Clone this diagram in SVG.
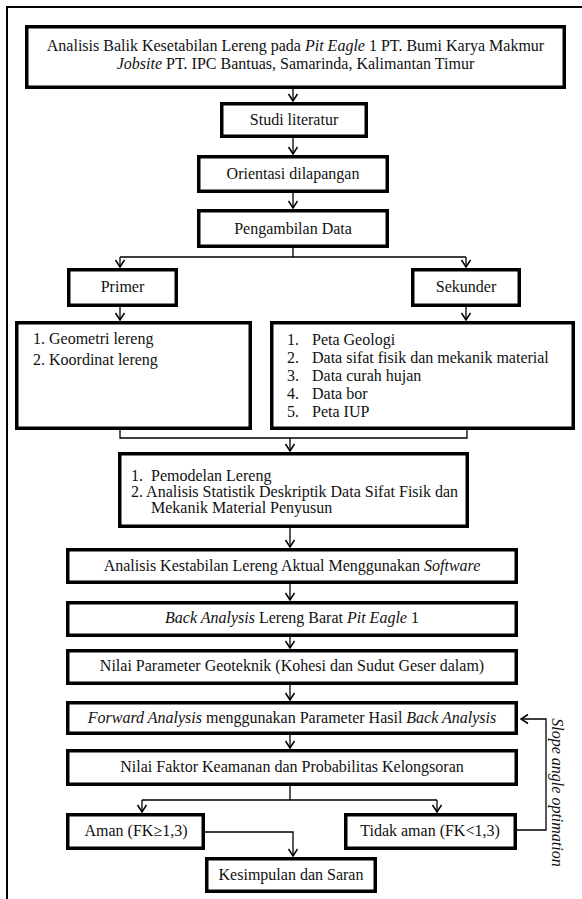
<svg xmlns="http://www.w3.org/2000/svg" width="582" height="899" viewBox="0 0 582 899">
<defs>
<style>
.box{fill:#fff;stroke:#000;stroke-width:3.5}
.t{font-family:"Liberation Serif","Times New Roman",serif;font-size:16px;fill:#111}
.c{text-anchor:middle}
.i{font-style:italic}
.ln{fill:none;stroke:#000;stroke-width:1.3}
.frame{fill:none;stroke:#000;stroke-width:2}
</style>
<marker id="ah" viewBox="-9 -6 10 12" refX="0" refY="0" markerWidth="10" markerHeight="12" markerUnits="userSpaceOnUse" orient="auto">
<path d="M-7,-4.5 L0,0 L-7,4.5" fill="none" stroke="#000" stroke-width="1.5"/>
</marker>
</defs>
<rect width="582" height="899" fill="#fff"/>
<path class="frame" d="M7,899 V7 H582"/>

<g id="connectors">
<path class="ln" d="M293,89 V101" marker-end="url(#ah)"/>
<path class="ln" d="M293,138 V154" marker-end="url(#ah)"/>
<path class="ln" d="M293,193 V208" marker-end="url(#ah)"/>
<path class="ln" d="M293,248 V257 M120,257 H466"/>
<path class="ln" d="M120,257 V267" marker-end="url(#ah)"/>
<path class="ln" d="M466,257 V267" marker-end="url(#ah)"/>
<path class="ln" d="M120,307 V320" marker-end="url(#ah)"/>
<path class="ln" d="M466,307 V320" marker-end="url(#ah)"/>
<path class="ln" d="M120,430 V438 H467 V430"/>
<path class="ln" d="M290,438 V451" marker-end="url(#ah)"/>
<path class="ln" d="M290,528 V547" marker-end="url(#ah)"/>
<path class="ln" d="M290,584 V600" marker-end="url(#ah)"/>
<path class="ln" d="M290,637 V648" marker-end="url(#ah)"/>
<path class="ln" d="M290,685 V700" marker-end="url(#ah)"/>
<path class="ln" d="M290,735 V748" marker-end="url(#ah)"/>
<path class="ln" d="M290,786 V800 M142,800 H437"/>
<path class="ln" d="M142,800 V812" marker-end="url(#ah)"/>
<path class="ln" d="M437,800 V812" marker-end="url(#ah)"/>
<path class="ln" d="M205,832 H293 V856" marker-end="url(#ah)"/>
<path class="ln" d="M517,830 H546 V719 H521" marker-end="url(#ah)"/>
<text class="t i c" transform="translate(551.5,792.5) rotate(90)">Slope angle optimation</text>
</g>

<g id="title">
<rect class="box" x="26.75" y="26.75" width="537.5" height="60.5"/>
<text class="t c" x="295.5" y="51">Analisis Balik Kesetabilan Lereng pada <tspan class="i">Pit Eagle</tspan> 1 PT. Bumi Karya Makmur</text>
<text class="t c" x="295.5" y="69"><tspan class="i">Jobsite</tspan> PT. IPC Bantuas, Samarinda, Kalimantan Timur</text>
</g>

<g id="studi">
<rect class="box" x="221.75" y="103.75" width="144.5" height="32.5"/>
<text class="t c" x="294" y="125">Studi literatur</text>
</g>

<g id="orientasi">
<rect class="box" x="198.75" y="156.75" width="188.5" height="34.5"/>
<text class="t c" x="293" y="179">Orientasi dilapangan</text>
</g>

<g id="pengambilan">
<rect class="box" x="198.75" y="210.75" width="188.5" height="35.5"/>
<text class="t c" x="293" y="234">Pengambilan Data</text>
</g>

<g id="primer">
<rect class="box" x="68.75" y="269.75" width="107.5" height="35.5"/>
<text class="t c" x="122.5" y="292">Primer</text>
</g>

<g id="sekunder">
<rect class="box" x="412.75" y="269.75" width="106.5" height="35.5"/>
<text class="t c" x="466" y="292">Sekunder</text>
</g>

<g id="primer-list">
<rect class="box" x="16.75" y="322.75" width="233.5" height="105.5"/>
<text class="t" x="33" y="344">1. Geometri lereng</text>
<text class="t" x="33" y="365">2. Koordinat lereng</text>
</g>

<g id="sekunder-list">
<rect class="box" x="271.75" y="322.75" width="301.5" height="105.5"/>
<text class="t" x="287" y="345">1.</text><text class="t" x="312" y="345">Peta Geologi</text>
<text class="t" x="287" y="363">2.</text><text class="t" x="312" y="363">Data sifat fisik dan mekanik material</text>
<text class="t" x="287" y="381">3.</text><text class="t" x="312" y="381">Data curah hujan</text>
<text class="t" x="287" y="399">4.</text><text class="t" x="312" y="399">Data bor</text>
<text class="t" x="287" y="417">5.</text><text class="t" x="312" y="417">Peta IUP</text>
</g>

<g id="pemodelan">
<rect class="box" x="119.75" y="453.75" width="347.5" height="72.5"/>
<text class="t" x="131" y="481">1.</text><text class="t" x="151" y="481">Pemodelan Lereng</text>
<text class="t" x="131" y="497">2. Analisis Statistik Deskriptik Data Sifat Fisik dan</text>
<text class="t" x="151" y="513">Mekanik Material Penyusun</text>
</g>

<g id="analisis-aktual">
<rect class="box" x="67.75" y="549.75" width="448.5" height="32.5"/>
<text class="t c" x="292" y="571">Analisis Kestabilan Lereng Aktual Menggunakan <tspan class="i">Software</tspan></text>
</g>

<g id="back-analysis">
<rect class="box" x="67.75" y="602.75" width="448.5" height="32.5"/>
<text class="t c" x="292" y="623"><tspan class="i">Back Analysis</tspan> Lereng Barat <tspan class="i">Pit Eagle</tspan> 1</text>
</g>

<g id="parameter">
<rect class="box" x="67.75" y="650.75" width="448.5" height="32.5"/>
<text class="t c" x="292" y="671">Nilai Parameter Geoteknik (Kohesi dan Sudut Geser dalam)</text>
</g>

<g id="forward">
<rect class="box" x="67.75" y="702.75" width="448.5" height="30.5"/>
<text class="t c" x="292" y="723"><tspan class="i">Forward Analysis</tspan> menggunakan Parameter Hasil <tspan class="i">Back Analysis</tspan></text>
</g>

<g id="faktor">
<rect class="box" x="67.75" y="750.75" width="448.5" height="33.5"/>
<text class="t c" x="292" y="772">Nilai Faktor Keamanan dan Probabilitas Kelongsoran</text>
</g>

<g id="aman">
<rect class="box" x="67.75" y="814.75" width="135.5" height="33.5"/>
<text class="t c" x="136" y="836">Aman (FK≥1,3)</text>
</g>

<g id="tidak-aman">
<rect class="box" x="345.75" y="814.75" width="169.5" height="33.5"/>
<text class="t c" x="430" y="836">Tidak aman (FK&lt;1,3)</text>
</g>

<g id="kesimpulan">
<rect class="box" x="206.75" y="858.75" width="168.5" height="32.5"/>
<text class="t c" x="291" y="880">Kesimpulan dan Saran</text>
</g>
</svg>
